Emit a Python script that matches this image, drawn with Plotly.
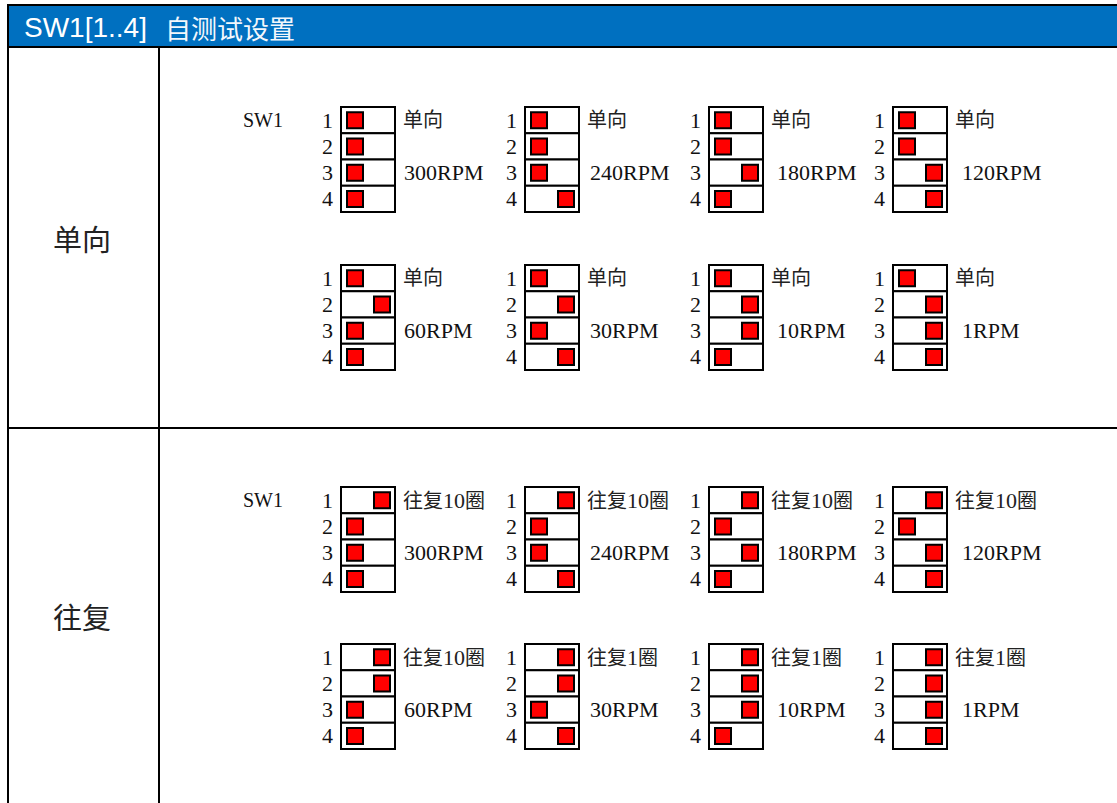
import plotly.graph_objects as go

# ---------------- data ----------------
title_code = "SW1[1..4]"
title_text = "自测试设置"
modes = ["单向", "往复"]
switch_name = "SW1"
switch_numbers = ["1", "2", "3", "4"]
speeds = ["300RPM", "240RPM", "180RPM", "120RPM", "60RPM", "30RPM", "10RPM", "1RPM"]
labels_single = ["单向", "单向", "单向", "单向", "单向", "单向", "单向", "单向"]
labels_recip = ["往复10圈", "往复10圈", "往复10圈", "往复10圈",
                "往复10圈", "往复1圈", "往复1圈", "往复1圈"]
states_single = ["LLLL", "LLLR", "LLRL", "LLRR", "LRLL", "LRLR", "LRRL", "LRRR"]
states_recip = ["RLLL", "RLLR", "RLRL", "RLRR", "RRLL", "RRLR", "RRRL", "RRRR"]

# ---------------- layout constants ----------------
W, H = 1117, 803
BLUE = "#0070C0"
col_left = [341, 525, 709, 893]
group_top = [[107, 265], [487, 644]]
row_center = [237.5, 615.5]
box_w = 54
box_h = 105
row_h = box_h / 4
knob_off = {"L": 14, "R": 41}
rpm_off = [7, 9, 12, 13]

SERIF = "Liberation Serif, Times New Roman, Noto Sans CJK SC"
SANS = "Arial, Liberation Sans, Noto Sans CJK SC"


def mixed(text, cjk_size=20, latin_size=22):
    """Latin/digit runs slightly larger than CJK runs, as in the reference."""
    out, buf, is_cjk = [], "", None
    for ch in text:
        c = ord(ch) > 0x2E80
        if is_cjk is None or c == is_cjk:
            buf += ch
        else:
            out.append((buf, is_cjk))
            buf = ch
        is_cjk = c
    if buf:
        out.append((buf, is_cjk))
    return "".join(
        f"<span style='font-size:{cjk_size if c else latin_size}px'>{s}</span>" for s, c in out)


shapes = []
annotations = []

# header
shapes.append(dict(type="rect", xref="x", yref="y", x0=7, x1=W + 1, y0=5, y1=47,
                   fillcolor=BLUE, line=dict(width=0), layer="below"))
for (x0, y0, x1, y1) in [(7, 5, W + 1, 5), (7, 47, W + 1, 47), (8, 5, 8, H + 1),
                         (159, 47, 159, H + 1), (8, 428, W + 1, 428)]:
    shapes.append(dict(type="line", xref="x", yref="y", x0=x0, y0=y0, x1=x1, y1=y1,
                       line=dict(color="black", width=2)))

annotations.append(dict(x=22, y=27, xref="x", yref="y", text=title_code, showarrow=False,
                        xanchor="left", yanchor="middle",
                        font=dict(family=SANS, size=28, color="white")))
annotations.append(dict(x=163, y=27, xref="x", yref="y", text=title_text, showarrow=False,
                        xanchor="left", yanchor="middle",
                        font=dict(family="Noto Sans CJK SC", size=26, color="#F2F7FC")))

knob_x, knob_y = [], []
all_labels = [labels_single, labels_recip]
all_states = [states_single, states_recip]

for m, mode in enumerate(modes):
    annotations.append(dict(x=82, y=row_center[m], xref="x", yref="y", text=mode,
                            showarrow=False, xanchor="center", yanchor="middle",
                            font=dict(family="Noto Sans CJK SC", size=29, color="#222")))
    annotations.append(dict(x=241, y=group_top[m][0] + row_h / 2, xref="x", yref="y",
                            text=switch_name, showarrow=False, xanchor="left",
                            yanchor="middle", font=dict(family=SERIF, size=20, color="#111")))
    for k in range(8):
        g, c = divmod(k, 4)
        left = col_left[c]
        top = group_top[m][g]
        state = all_states[m][k]
        for r in range(4):
            y0 = top + r * row_h
            shapes.append(dict(type="rect", xref="x", yref="y", x0=left, x1=left + box_w,
                               y0=y0, y1=y0 + row_h, fillcolor="white",
                               line=dict(color="black", width=2), layer="below"))
            annotations.append(dict(x=left - 6, y=y0 + row_h / 2, xref="x", yref="y",
                                    text=switch_numbers[r], showarrow=False,
                                    xanchor="right", yanchor="middle",
                                    font=dict(family=SERIF, size=22, color="#111")))
            knob_x.append(left + knob_off[state[r]])
            knob_y.append(y0 + row_h / 2)
        annotations.append(dict(x=left + box_w + 6, y=top + row_h / 2, xref="x", yref="y",
                                text=mixed(all_labels[m][k]), showarrow=False,
                                xanchor="left", yanchor="middle",
                                font=dict(family=SERIF, size=20, color="#222")))
        annotations.append(dict(x=left + box_w + rpm_off[c], y=top + 2.5 * row_h,
                                xref="x", yref="y", text=speeds[k], showarrow=False,
                                xanchor="left", yanchor="middle",
                                font=dict(family=SERIF, size=22, color="#111")))

fig = go.Figure(go.Scatter(
    x=knob_x, y=knob_y, mode="markers", hoverinfo="skip",
    marker=dict(symbol="square", size=16, color="#FF0000",
                line=dict(color="black", width=2))))

fig.update_layout(
    width=W, height=H, margin=dict(l=0, r=0, t=0, b=0),
    paper_bgcolor="white", plot_bgcolor="white", showlegend=False,
    xaxis=dict(range=[0, W], visible=False, fixedrange=True),
    yaxis=dict(range=[H, 0], visible=False, fixedrange=True),
    shapes=shapes, annotations=annotations,
)

fig.write_html("out.html", config={"displayModeBar": False},
               post_script="document.body.style.margin='0px';document.body.style.overflow='hidden';")
